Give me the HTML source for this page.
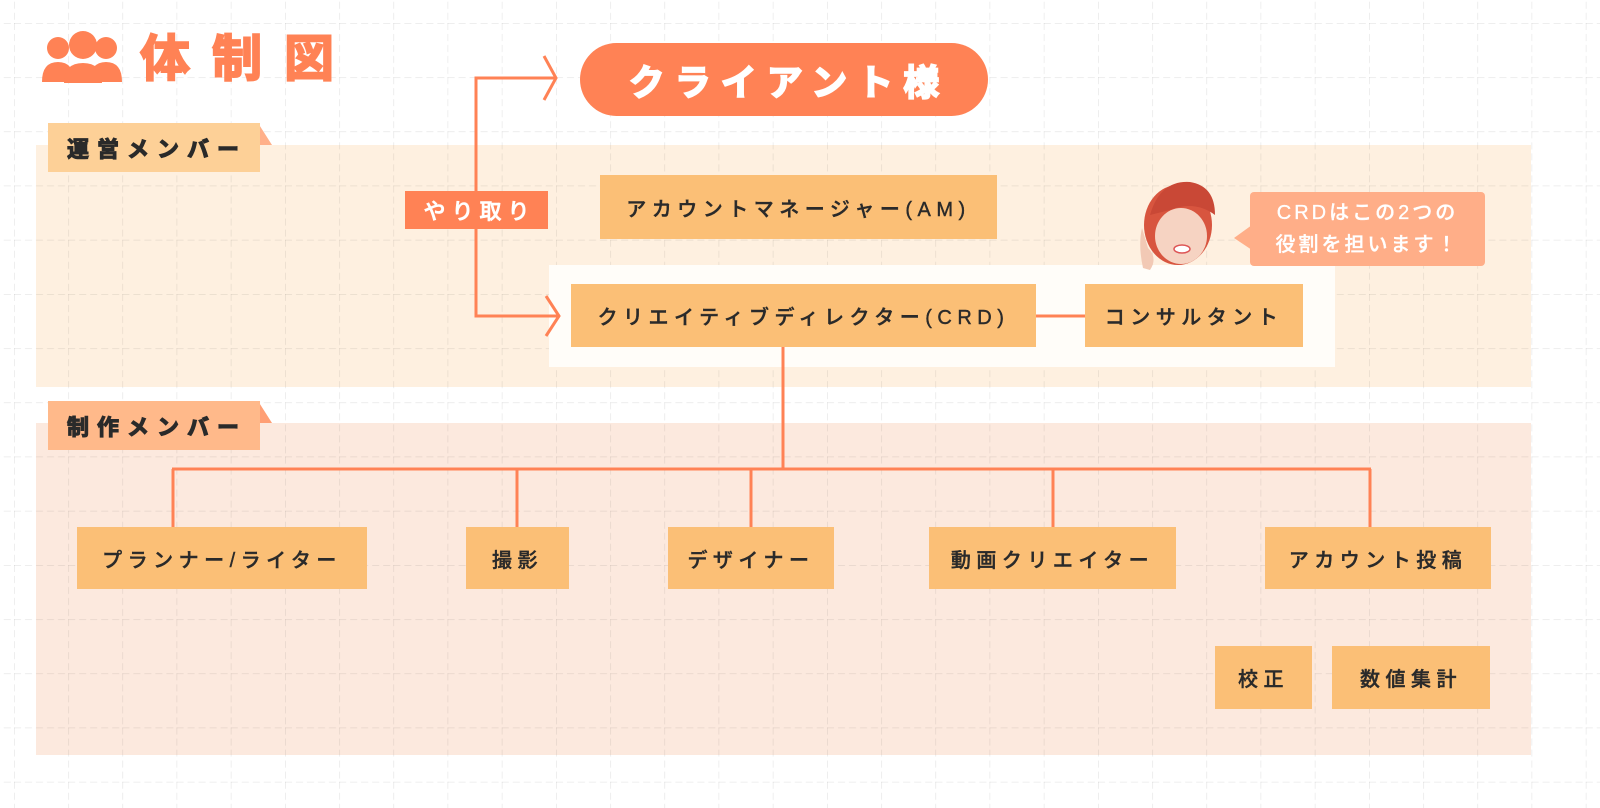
<!DOCTYPE html>
<html><head><meta charset="utf-8">
<style>
body{margin:0;width:1600px;height:808px;position:relative;background:#fff;overflow:hidden;font-family:"Liberation Sans","Noto Sans CJK JP",sans-serif;}
.a{position:absolute;display:flex;align-items:center;justify-content:center;box-sizing:border-box;white-space:nowrap;}
.box{background:#FBBF76;color:#2a2a2a;font-size:20px;font-weight:500;letter-spacing:5.5px;-webkit-text-stroke:0.4px #2a2a2a;}
.tag{font-size:22px;font-weight:700;letter-spacing:8px;color:#2a2a2a;padding-left:6px;-webkit-text-stroke:1.1px #2a2a2a;}
</style></head><body>
<svg width="1600" height="808" style="position:absolute;left:0;top:0">
<defs>
<pattern id="g" x="14" y="23" width="54.2" height="54.2" patternUnits="userSpaceOnUse">
<line x1="0" y1="0" x2="54.2" y2="0" stroke="#000" stroke-opacity=".11" stroke-dasharray="7 4" stroke-width="1.2"/>
<line x1="0" y1="0" x2="0" y2="54.2" stroke="#000" stroke-opacity=".11" stroke-dasharray="7 4" stroke-width="1.2"/>
</pattern>
</defs>
<rect x="36" y="145" width="1495" height="242" fill="#FEF0E0"/>
<rect x="36" y="423" width="1495" height="332" fill="#FCE9DE"/>
<rect width="1600" height="808" fill="url(#g)"/>
<rect x="549" y="265" width="786" height="102" fill="#FFFDF9"/>
<polygon points="258,123 272,145 258,145" fill="#FFB08A"/>
<polygon points="258,401 272,423 258,423" fill="#FF9F75"/>
<g stroke="#FF8255" stroke-width="3" fill="none">
<polyline points="476,191 476,78 556,78"/>
<polyline points="544,56 556,78 544,100"/>
<polyline points="476,229 476,316 560,316"/>
<polyline points="546,296 559,316 546,336"/>
<line x1="1036" y1="316" x2="1085" y2="316"/>
<line x1="783" y1="347" x2="783" y2="469"/>
<line x1="172" y1="469" x2="1371" y2="469"/>
<line x1="173" y1="469" x2="173" y2="527"/>
<line x1="517" y1="469" x2="517" y2="527"/>
<line x1="751" y1="469" x2="751" y2="527"/>
<line x1="1053" y1="469" x2="1053" y2="527"/>
<line x1="1370" y1="469" x2="1370" y2="527"/>
</g>
<g fill="#FF8255">
<circle cx="58" cy="48" r="11"/><circle cx="106" cy="48" r="11"/>
<circle cx="83" cy="45" r="14"/>
<path d="M42 82 Q42 62 58 62 Q74 62 74 82Z"/>
<path d="M90 82 Q90 62 106 62 Q122 62 122 82Z"/>
<path d="M64 83 Q64 63 83 63 Q102 63 102 83Z"/>
</g>
<rect x="1250" y="192" width="235" height="74" rx="4" fill="#FFAE88"/>
<polygon points="1252,225 1234,238 1252,250" fill="#FFAE88"/>
<ellipse cx="1178" cy="225" rx="34" ry="40" fill="#D8553F"/>
<ellipse cx="1181" cy="236" rx="26" ry="28" fill="#F6D3C2"/>
<path d="M1150 215 Q1160 180 1190 182 Q1215 186 1215 215 Q1195 200 1170 210Z" fill="#C94836"/>
<ellipse cx="1182" cy="249" rx="8" ry="4" fill="#fff" stroke="#d55" stroke-width="1.5"/>
<path d="M1143 268 Q1138 245 1142 228 L1148 248 Q1158 258 1150 270Z" fill="#F2C9B5"/>
</svg>
<div class="a" style="left:140px;top:22px;width:215px;height:66px;font-size:50px;font-weight:700;color:#FF8255;letter-spacing:22px;justify-content:flex-start;-webkit-text-stroke:2px #FF8255">体制図</div>
<div class="a" style="left:580px;top:43px;width:408px;height:73px;border-radius:37px;background:#FF8255;color:#fff;font-size:36px;font-weight:700;letter-spacing:10px;padding-left:10px;-webkit-text-stroke:1.8px #fff">クライアント様</div>
<div class="a tag" style="left:48px;top:123px;width:212px;height:49px;background:#FDD097">運営メンバー</div>
<div class="a tag" style="left:48px;top:401px;width:212px;height:49px;background:#FFB98A">制作メンバー</div>
<div class="a" style="left:405px;top:191px;width:143px;height:38px;background:#FF8255;color:#fff;font-size:22px;font-weight:500;letter-spacing:6px;padding-left:6px;-webkit-text-stroke:0.6px #fff">やり取り</div>
<div class="a box" style="left:600px;top:175px;width:397px;height:64px">アカウントマネージャー(AM)</div>
<div class="a box" style="left:571px;top:284px;width:465px;height:63px">クリエイティブディレクター(CRD)</div>
<div class="a box" style="left:1085px;top:284px;width:218px;height:63px">コンサルタント</div>
<div class="a" style="left:1250px;top:192px;width:235px;height:74px;color:#fff;font-size:20px;font-weight:500;letter-spacing:3px;line-height:32px;text-align:center;flex-direction:column;-webkit-text-stroke:0.3px #fff">CRDはこの2つの<br>役割を担います！</div>
<div class="a box" style="left:77px;top:527px;width:290px;height:62px">プランナー/ライター</div>
<div class="a box" style="left:466px;top:527px;width:103px;height:62px">撮影</div>
<div class="a box" style="left:668px;top:527px;width:166px;height:62px">デザイナー</div>
<div class="a box" style="left:929px;top:527px;width:247px;height:62px">動画クリエイター</div>
<div class="a box" style="left:1265px;top:527px;width:226px;height:62px">アカウント投稿</div>
<div class="a box" style="left:1215px;top:646px;width:97px;height:63px">校正</div>
<div class="a box" style="left:1332px;top:646px;width:158px;height:63px">数値集計</div>
</body></html>
